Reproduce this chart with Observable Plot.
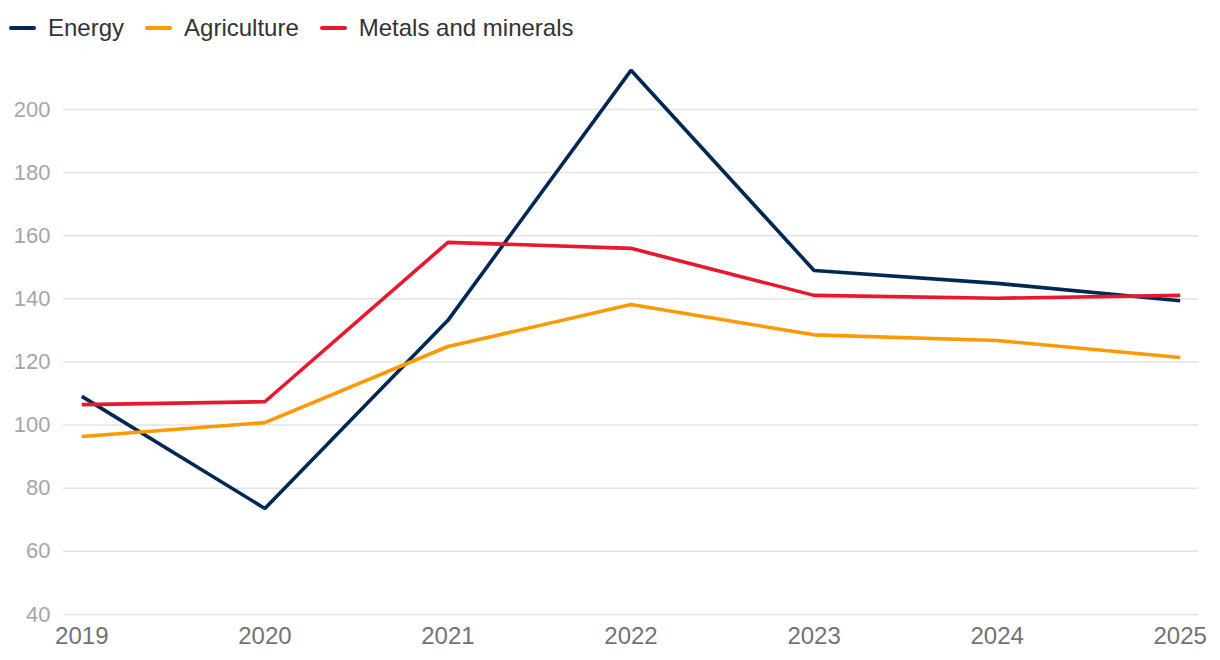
<!DOCTYPE html>
<html>
<head>
<meta charset="utf-8">
<script src="https://cdn.jsdelivr.net/npm/d3@7"></script>
<script src="https://cdn.jsdelivr.net/npm/@observablehq/plot@0.6"></script>
<style>
  html, body { margin: 0; padding: 0; background: #fff; }
  body { width: 1220px; height: 660px; overflow: hidden; font-family: "Liberation Sans", Arial, Helvetica, sans-serif; }
  #legend { height: 56px; display: flex; align-items: center; padding-left: 9px; box-sizing: border-box; color: #333; font-size: 24px; }
  .item { display: flex; align-items: center; margin-right: 21px; }
  .sw { width: 27px; height: 4px; border-radius: 2px; margin-right: 12px; }
  #chart svg { display: block; }
</style>
</head>
<body>
<div id="legend"></div>
<div id="chart"></div>
<script>
const years = [2019, 2020, 2021, 2022, 2023, 2024, 2025];
const seriesNames = ["Energy", "Agriculture", "Metals and minerals"];
const seriesColors = ["#002855", "#ff9900", "#e8182f"];
const energy = [109.1, 73.6, 133.2, 212.4, 149.0, 144.9, 139.4];
const agriculture = [96.4, 100.8, 124.9, 138.2, 128.6, 126.8, 121.4];
const metals = [106.5, 107.4, 157.9, 156.0, 141.1, 140.2, 141.1];
const yTicks = [40, 60, 80, 100, 120, 140, 160, 180, 200];

const seriesValues = [energy, agriculture, metals];
const data = [];
seriesNames.forEach((name, i) => {
  years.forEach((yr, j) => data.push({series: name, year: yr, value: seriesValues[i][j]}));
});

const legend = document.getElementById("legend");
seriesNames.forEach((name, i) => {
  const it = document.createElement("div");
  it.className = "item";
  const sw = document.createElement("div");
  sw.className = "sw";
  sw.style.background = seriesColors[i];
  const tx = document.createElement("span");
  tx.textContent = name;
  it.appendChild(sw); it.appendChild(tx);
  legend.appendChild(it);
});

const plot = Plot.plot({
  width: 1220,
  height: 604,
  marginTop: 21.4,
  marginBottom: 46,
  marginLeft: 63,
  marginRight: 22,
  style: { fontFamily: "'Liberation Sans', Arial, Helvetica, sans-serif", background: "#fff" },
  x: { domain: [2018.9, 2025.1] },
  y: { domain: [40, 210] },
  color: { domain: seriesNames, range: seriesColors },
  marks: [
    Plot.ruleY(yTicks, { stroke: "#e3e3e3", strokeWidth: 1.5 }),
    Plot.axisY(yTicks, { tickSize: 0, tickPadding: 13, fontSize: 22, fill: "#a6a6a6", label: null }),
    Plot.axisX(years, { tickSize: 0, tickPadding: 12, fontSize: 24, fill: "#737373", label: null, tickFormat: d => String(d) }),
    Plot.line(data, { x: "year", y: "value", z: "series", stroke: "series", strokeWidth: 3.6, strokeLinejoin: "miter", strokeLinecap: "butt" })
  ]
});
document.getElementById("chart").appendChild(plot);
</script>
</body>
</html>
